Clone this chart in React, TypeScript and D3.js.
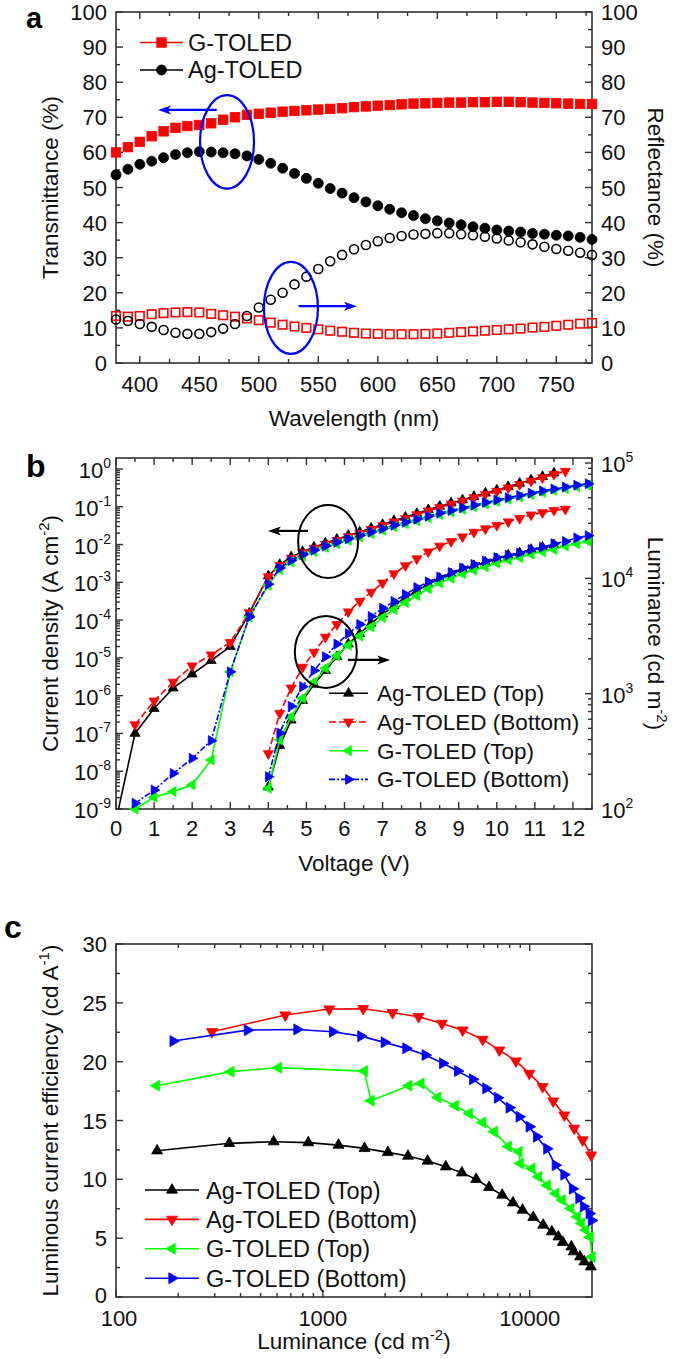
import React from "react";
import * as d3 from "d3";

const FONT = "'Liberation Sans', Arial, Helvetica, sans-serif";
const AXIS = "#303030";
const RED = "#ff0000";
const GREEN = "#00ff00";
const BLUE = "#0000ff";
const BLACK = "#000000";

// ---------------- Panel a: transmittance / reflectance ----------------
const wavelength = [380, 390, 400, 410, 420, 430, 440, 450, 460, 470, 480, 490, 500, 510, 520, 530, 540, 550, 560, 570, 580, 590, 600, 610, 620, 630, 640, 650, 660, 670, 680, 690, 700, 710, 720, 730, 740, 750, 760, 770, 780];
const gTransmittance = [60.0, 61.5, 63.0, 64.6, 66.0, 67.0, 67.5, 67.8, 68.3, 69.3, 70.0, 70.7, 71.0, 71.3, 71.6, 71.8, 72.0, 72.2, 72.4, 72.6, 72.9, 73.1, 73.3, 73.5, 73.7, 73.9, 74.0, 74.1, 74.2, 74.2, 74.3, 74.3, 74.4, 74.4, 74.3, 74.2, 74.1, 74.0, 73.9, 73.8, 73.8];
const agTransmittance = [53.6, 55.2, 56.6, 57.5, 58.5, 59.4, 59.9, 60.2, 60.1, 59.9, 59.6, 59.0, 58.0, 56.9, 55.5, 54.0, 52.6, 51.2, 49.7, 48.4, 47.1, 45.9, 44.8, 43.8, 42.8, 42.0, 41.1, 40.5, 39.9, 39.4, 38.8, 38.4, 37.9, 37.6, 37.3, 36.9, 36.7, 36.4, 36.2, 35.8, 35.2];
const agReflectance = [12.4, 12.0, 11.1, 10.3, 9.4, 8.6, 8.3, 8.3, 8.8, 9.8, 11.1, 13.4, 15.8, 18.0, 20.0, 22.4, 24.6, 26.8, 29.0, 30.8, 32.4, 33.6, 34.7, 35.6, 36.2, 36.6, 36.8, 37.0, 37.0, 36.7, 36.4, 36.0, 35.5, 34.9, 34.4, 33.8, 33.1, 32.5, 32.0, 31.4, 30.8];
const gReflectance = [13.4, 13.2, 13.4, 13.9, 14.2, 14.4, 14.5, 14.4, 14.0, 13.6, 13.2, 12.7, 12.2, 11.5, 10.9, 10.4, 10.0, 9.6, 9.2, 8.9, 8.6, 8.4, 8.3, 8.2, 8.2, 8.2, 8.3, 8.4, 8.6, 8.8, 9.0, 9.2, 9.4, 9.6, 9.8, 10.1, 10.3, 10.6, 10.9, 11.2, 11.4];
const aXTicks = [400, 450, 500, 550, 600, 650, 700, 750];
const aXMinor = [425, 475, 525, 575, 625, 675, 725, 775];
const aYTicks = [0, 10, 20, 30, 40, 50, 60, 70, 80, 90, 100];

// ---------------- Panel b: J-V-L ----------------
const voltage = [0, 0.5, 1.0, 1.5, 2.0, 2.5, 3.0, 3.5, 4.0, 4.3, 4.6, 4.9, 5.2, 5.5, 5.8, 6.1, 6.4, 6.7, 7.0, 7.3, 7.6, 7.9, 8.2, 8.5, 8.8, 9.1, 9.4, 9.7, 10.0, 10.3, 10.6, 10.9, 11.2, 11.5, 11.8, 12.1, 12.4];
// log10 of current density (A cm^-2); null = no point
const agTopLogJ = [-9.3, -7.0, -6.34, -5.80, -5.43, -5.07, -4.70, -3.82, -2.83, -2.53, -2.33, -2.19, -2.07, -1.96, -1.86, -1.76, -1.67, -1.57, -1.47, -1.37, -1.28, -1.18, -1.08, -0.99, -0.90, -0.82, -0.73, -0.64, -0.56, -0.47, -0.38, -0.29, -0.20, -0.11, null, null, null];
const agBotLogJ = [null, -6.77, -6.14, -5.64, -5.21, -4.92, -4.59, -3.80, -2.85, -2.55, -2.36, -2.22, -2.10, -1.99, -1.89, -1.79, -1.70, -1.60, -1.50, -1.40, -1.31, -1.21, -1.11, -1.02, -0.93, -0.85, -0.76, -0.67, -0.59, -0.50, -0.41, -0.32, -0.23, -0.14, -0.06, null, null];
const gTopLogJ = [null, -9.0, -8.69, -8.54, -8.36, -7.70, -5.37, -3.92, -3.08, -2.66, -2.46, -2.31, -2.19, -2.08, -1.98, -1.89, -1.80, -1.71, -1.62, -1.53, -1.45, -1.37, -1.29, -1.21, -1.14, -1.07, -1.00, -0.93, -0.86, -0.80, -0.74, -0.68, -0.62, -0.57, -0.52, -0.47, -0.43];
const gBotLogJ = [null, -8.85, -8.50, -8.06, -7.66, -7.19, -5.37, -3.92, -3.05, -2.62, -2.42, -2.27, -2.15, -2.04, -1.94, -1.85, -1.76, -1.67, -1.58, -1.49, -1.41, -1.33, -1.25, -1.17, -1.10, -1.03, -0.96, -0.89, -0.82, -0.76, -0.70, -0.64, -0.58, -0.53, -0.48, -0.43, -0.39];
// log10 of luminance (cd m^-2)
const agTopLogL = [null, null, null, null, null, null, null, null, 2.19, 2.55, 2.77, 2.94, 3.08, 3.20, 3.32, 3.43, 3.52, 3.61, 3.69, 3.76, 3.83, 3.89, 3.95, 4.00, 4.04, 4.08, 4.11, 4.14, 4.17, 4.20, 4.22, 4.25, 4.27, 4.29, null, null, null];
const agBotLogL = [null, null, null, null, null, null, null, null, 2.48, 2.83, 3.05, 3.23, 3.36, 3.49, 3.60, 3.71, 3.80, 3.88, 3.96, 4.04, 4.11, 4.17, 4.23, 4.28, 4.32, 4.36, 4.40, 4.43, 4.46, 4.49, 4.52, 4.55, 4.57, 4.59, 4.60, null, null];
const gTopLogL = [null, null, null, null, null, null, null, null, 2.18, 2.60, 2.80, 2.96, 3.10, 3.22, 3.33, 3.42, 3.50, 3.58, 3.66, 3.73, 3.79, 3.85, 3.91, 3.96, 4.00, 4.04, 4.07, 4.10, 4.13, 4.16, 4.18, 4.21, 4.23, 4.25, 4.28, 4.30, 4.32];
const gBotLogL = [null, null, null, null, null, null, null, null, 2.28, 2.66, 2.89, 3.06, 3.20, 3.32, 3.43, 3.52, 3.60, 3.67, 3.74, 3.80, 3.86, 3.92, 3.97, 4.01, 4.05, 4.09, 4.12, 4.15, 4.18, 4.20, 4.22, 4.25, 4.27, 4.30, 4.32, 4.35, 4.37];
const bXTicks = [0, 1, 2, 3, 4, 5, 6, 7, 8, 9, 10, 11, 12];
const bJExps = [-9, -8, -7, -6, -5, -4, -3, -2, -1, 0];
const bLExps = [2, 3, 4, 5];

// ---------------- Panel c: efficiency vs luminance ----------------
const agTopLum = [158, 353, 578, 850, 1190, 1590, 2060, 2580, 3210, 3930, 4700, 5510, 6360, 7360, 8300, 9230, 10400, 11620, 12790, 13750, 14450, 15900, 16300, 17500, 18360, 19740];
const agTopEff = [12.43, 13.06, 13.2, 13.12, 12.91, 12.63, 12.29, 11.98, 11.56, 11.07, 10.56, 10.0, 9.32, 8.67, 8.01, 7.39, 6.77, 6.12, 5.55, 5.12, 4.65, 4.27, 3.85, 3.42, 3.0, 2.57];
const agBotLum = [291, 658, 1074, 1567, 2173, 2900, 3763, 4740, 5920, 7130, 8580, 9950, 11540, 12990, 14690, 16410, 18030, 19800];
const agBotEff = [22.54, 23.96, 24.47, 24.5, 24.16, 23.82, 23.25, 22.68, 21.89, 20.98, 20.05, 19.0, 17.87, 16.65, 15.46, 14.33, 13.34, 12.06];
const gTopLum = [157, 359, 610, 1585, 1708, 2600, 2980, 3590, 4365, 5100, 5920, 6730, 7870, 8870, 8990, 10240, 11010, 12130, 13360, 14350, 15790, 16970, 17790, 18660, 19580, 20000];
const gTopEff = [17.96, 19.15, 19.49, 19.2, 16.68, 17.96, 18.15, 16.96, 16.26, 15.6, 14.84, 14.05, 12.8, 12.35, 11.36, 10.93, 10.22, 9.5, 8.8, 8.24, 7.53, 6.82, 6.26, 5.7, 5.1, 3.4];
const gBotLum = [189, 432, 750, 1115, 1527, 1983, 2522, 3128, 3795, 4483, 5300, 6140, 6990, 7960, 8900, 9950, 10800, 12100, 13300, 14650, 16100, 17300, 18200, 19400, 19900];
const gBotEff = [21.75, 22.68, 22.74, 22.54, 22.17, 21.64, 21.13, 20.56, 19.86, 19.2, 18.5, 17.73, 16.94, 16.09, 15.32, 14.47, 13.62, 12.6, 11.2, 10.4, 9.2, 8.4, 7.7, 7.1, 6.5];
const cXTicks = [100, 1000, 10000];
const cYTicks = [0, 5, 10, 15, 20, 25, 30];

const deviceNames = ["Ag-TOLED (Top)", "Ag-TOLED (Bottom)", "G-TOLED (Top)", "G-TOLED (Bottom)"];

// ---------------- Layout ----------------
const PL = 116;
const PR = 592;
const A = { top: 12, bottom: 363 };
const B = { top: 458, bottom: 809 };
const C = { top: 944, bottom: 1297 };

const xA = d3.scaleLinear().domain([380, 780]).range([PL, PR]);
const yA = d3.scaleLinear().domain([0, 100]).range([A.bottom, A.top]);
const xB = d3.scaleLinear().domain([0, 12.5]).range([PL, PR]);
const yBJ = d3.scaleLog().domain([1e-9, 1.95]).range([B.bottom, B.top]);
const yBL = d3.scaleLog().domain([100, 1.105e5]).range([B.bottom, B.top]);
const xC = d3.scaleLog().domain([100, 20000]).range([PL, PR]);
const yC = d3.scaleLinear().domain([0, 30]).range([C.bottom, C.top]);

type Shape = "square" | "circle" | "up" | "down" | "left" | "right";

function triPts(shape: Shape, x: number, y: number, s: number) {
  const h = s * 0.866;
  const a = (2 * h) / 3;
  const b = h / 3;
  const w = s / 2;
  let p: number[][] = [];
  if (shape === "up") p = [[x, y - a], [x - w, y + b], [x + w, y + b]];
  if (shape === "down") p = [[x, y + a], [x - w, y - b], [x + w, y - b]];
  if (shape === "left") p = [[x - a, y], [x + b, y - w], [x + b, y + w]];
  if (shape === "right") p = [[x + a, y], [x - b, y - w], [x - b, y + w]];
  return p.map((q) => q.join(",")).join(" ");
}

function Marker(props: { shape: Shape; x: number; y: number; s: number; color: string; open?: boolean }) {
  const { shape, x, y, s, color, open } = props;
  const fill = open ? "none" : color;
  const sw = open ? 1.6 : 0.8;
  if (shape === "square") return <rect x={x - s / 2} y={y - s / 2} width={s} height={s} fill={fill} stroke={color} strokeWidth={sw} />;
  if (shape === "circle") return <circle cx={x} cy={y} r={s / 2} fill={fill} stroke={color} strokeWidth={sw} />;
  return <polygon points={triPts(shape, x, y, s)} fill={fill} stroke={color} strokeWidth={sw} strokeLinejoin="miter" />;
}

function Arrow(props: { x1: number; x2: number; y: number; color: string }) {
  const { x1, x2, y, color } = props;
  const dir = x2 > x1 ? 1 : -1;
  const head = 13;
  const hw = 4.5;
  return (
    <g>
      <line x1={x1} y1={y} x2={x2 - dir * head * 0.7} y2={y} stroke={color} strokeWidth={2.2} />
      <polygon points={`${x2},${y} ${x2 - dir * head},${y - hw} ${x2 - dir * head * 0.75},${y} ${x2 - dir * head},${y + hw}`} fill={color} />
    </g>
  );
}

function Frame(props: { top: number; bottom: number }) {
  return <rect x={PL} y={props.top} width={PR - PL} height={props.bottom - props.top} fill="none" stroke={AXIS} strokeWidth={1.6} />;
}

function XTickMarks(props: { pos: number[]; top: number; bottom: number; len: number }) {
  return (
    <g stroke={AXIS} strokeWidth={1.4}>
      {props.pos.map((x, i) => (
        <g key={i}>
          <line x1={x} x2={x} y1={props.bottom} y2={props.bottom - props.len} />
          <line x1={x} x2={x} y1={props.top} y2={props.top + props.len} />
        </g>
      ))}
    </g>
  );
}
function YTickMarks(props: { pos: number[]; left?: boolean; right?: boolean; len: number }) {
  return (
    <g stroke={AXIS} strokeWidth={1.4}>
      {props.pos.map((y, i) => (
        <g key={i}>
          {props.left !== false && <line x1={PL} x2={PL + props.len} y1={y} y2={y} />}
          {props.right !== false && <line x1={PR} x2={PR - props.len} y1={y} y2={y} />}
        </g>
      ))}
    </g>
  );
}

const TICK_FS = 22;
const TITLE_FS = 22.5;

function linePath(pts: [number, number][], xs: (v: number) => number, ys: (v: number) => number) {
  return (
    d3
      .line<[number, number]>()
      .x((d) => xs(d[0]))
      .y((d) => ys(d[1]))(pts) || ""
  );
}

function seriesPts(xv: number[], logv: (number | null)[]): [number, number][] {
  const out: [number, number][] = [];
  xv.forEach((v, i) => {
    const l = logv[i];
    if (l !== null && l !== undefined) out.push([v, Math.pow(10, l)]);
  });
  return out;
}

function zipPts(xv: number[], yv: number[]): [number, number][] {
  return xv.map((v, i) => [v, yv[i]] as [number, number]);
}

export default function App() {
  const aMinorY: number[] = [];
  for (let v = 5; v < 100; v += 10) aMinorY.push(v);

  const bMinorX: number[] = [];
  for (let v = 0.5; v <= 12.5; v += 1) bMinorX.push(v);
  const bJMinor: number[] = [];
  for (let e = -9; e <= 0; e++) for (let k = 2; k <= 9; k++) if (k * Math.pow(10, e) < 1.95) bJMinor.push(k * Math.pow(10, e));
  const bLMinor: number[] = [];
  for (let e = 2; e <= 5; e++) for (let k = 2; k <= 9; k++) if (k * Math.pow(10, e) < 1.105e5) bLMinor.push(k * Math.pow(10, e));

  const cMinorX: number[] = [];
  for (let e = 2; e <= 4; e++) for (let k = 2; k <= 9; k++) if (k * Math.pow(10, e) < 20000) cMinorX.push(k * Math.pow(10, e));
  const cMinorY: number[] = [];
  for (let v = 2.5; v < 30; v += 5) cMinorY.push(v);

  const bSeries = [
    { name: deviceNames[0], color: BLACK, shape: "up" as Shape, dash: undefined as string | undefined, J: agTopLogJ, L: agTopLogL },
    { name: deviceNames[1], color: RED, shape: "down" as Shape, dash: "7,3", J: agBotLogJ, L: agBotLogL },
    { name: deviceNames[2], color: GREEN, shape: "left" as Shape, dash: undefined, J: gTopLogJ, L: gTopLogL },
    { name: deviceNames[3], color: BLUE, shape: "right" as Shape, dash: "6,2,2,2", J: gBotLogJ, L: gBotLogL },
  ];
  const cSeries = [
    { name: deviceNames[0], color: BLACK, shape: "up" as Shape, pts: zipPts(agTopLum, agTopEff) },
    { name: deviceNames[1], color: RED, shape: "down" as Shape, pts: zipPts(agBotLum, agBotEff) },
    { name: deviceNames[2], color: GREEN, shape: "left" as Shape, pts: zipPts(gTopLum, gTopEff) },
    { name: deviceNames[3], color: BLUE, shape: "right" as Shape, pts: zipPts(gBotLum, gBotEff) },
  ];

  const inJ = (v: number) => v >= 1e-9 * 0.999 && v <= 1.95;
  const inL = (v: number) => v >= 100 * 0.999 && v <= 1.105e5;

  const sup = (base: string, exp: string) => (
    <>
      {base}
      <tspan dy={-10} fontSize={14}>{exp}</tspan>
    </>
  );

  return (
    <svg width={675} height={1359} viewBox="0 0 675 1359" style={{ position: "absolute", left: 0, top: 0, background: "#fff" }} fontFamily={FONT}>
      <rect x={0} y={0} width={675} height={1359} fill="#fff" />
      <defs>
        <clipPath id="clipA"><rect x={PL} y={A.top} width={PR - PL} height={A.bottom - A.top} /></clipPath>
        <clipPath id="clipB"><rect x={PL} y={B.top} width={PR - PL} height={B.bottom - B.top} /></clipPath>
        <clipPath id="clipC"><rect x={PL} y={C.top} width={PR - PL} height={C.bottom - C.top} /></clipPath>
      </defs>

      {/* ================= PANEL A ================= */}
      <text x={26} y={28} fontSize={29} fontWeight="bold">a</text>
      <Frame top={A.top} bottom={A.bottom} />
      <XTickMarks pos={aXTicks.map((v) => xA(v))} top={A.top} bottom={A.bottom} len={7} />
      <XTickMarks pos={aXMinor.map((v) => xA(v))} top={A.top} bottom={A.bottom} len={4} />
      <YTickMarks pos={aYTicks.map((v) => yA(v))} len={7} />
      <YTickMarks pos={aMinorY.map((v) => yA(v))} len={4} />
      <g fontSize={TICK_FS} fill="#111">
        {aYTicks.map((v) => (
          <text key={"al" + v} x={107} y={yA(v) + 8} textAnchor="end">{v}</text>
        ))}
        {aYTicks.map((v) => (
          <text key={"ar" + v} x={601} y={yA(v) + 8} textAnchor="start">{v}</text>
        ))}
        {aXTicks.map((v) => (
          <text key={"ax" + v} x={xA(v)} y={A.bottom + 29} textAnchor="middle">{v}</text>
        ))}
      </g>
      <text x={354} y={426} fontSize={TITLE_FS} textAnchor="middle" fill="#111">Wavelength (nm)</text>
      <text transform={`translate(58,${(A.top + A.bottom) / 2}) rotate(-90)`} fontSize={TITLE_FS} textAnchor="middle" fill="#111">Transmittance (%)</text>
      <text transform={`translate(648,${(A.top + A.bottom) / 2}) rotate(90)`} fontSize={TITLE_FS} textAnchor="middle" fill="#111">Reflectance (%)</text>

      <g>
        {wavelength.map((w, i) => (
          <Marker key={"gr" + i} shape="square" x={xA(w)} y={yA(gReflectance[i])} s={8.5} color={RED} open />
        ))}
        {wavelength.map((w, i) => (
          <Marker key={"ar" + i} shape="circle" x={xA(w)} y={yA(agReflectance[i])} s={9} color={BLACK} open />
        ))}
        {wavelength.map((w, i) => (
          <Marker key={"gt" + i} shape="square" x={xA(w)} y={yA(gTransmittance[i])} s={9.5} color={RED} />
        ))}
        {wavelength.map((w, i) => (
          <Marker key={"at" + i} shape="circle" x={xA(w)} y={yA(agTransmittance[i])} s={10} color={BLACK} />
        ))}
      </g>
      <ellipse cx={xA(473.3)} cy={yA(63)} rx={27} ry={46.7} fill="none" stroke={BLUE} strokeWidth={2.2} />
      <Arrow x1={xA(464.6)} x2={xA(415.3)} y={yA(72.1)} color={BLUE} />
      <ellipse cx={xA(527)} cy={yA(15.7)} rx={27} ry={46} fill="none" stroke={BLUE} strokeWidth={2.2} />
      <Arrow x1={xA(533.5)} x2={xA(582.5)} y={yA(16.2)} color={BLUE} />
      <g>
        <line x1={140} x2={183} y1={42.5} y2={42.5} stroke={RED} strokeWidth={1.6} />
        <Marker shape="square" x={161.5} y={42.5} s={9.5} color={RED} />
        <text x={188} y={50.5} fontSize={23.5} fill="#111">G-TOLED</text>
        <line x1={140} x2={183} y1={70} y2={70} stroke={BLACK} strokeWidth={1.6} />
        <Marker shape="circle" x={161.5} y={70} s={10} color={BLACK} />
        <text x={188} y={78} fontSize={23.5} fill="#111">Ag-TOLED</text>
      </g>

      {/* ================= PANEL B ================= */}
      <text x={26} y={477} fontSize={32} fontWeight="bold">b</text>
      <Frame top={B.top} bottom={B.bottom} />
      <XTickMarks pos={bXTicks.map((v) => xB(v))} top={B.top} bottom={B.bottom} len={7} />
      <XTickMarks pos={bMinorX.map((v) => xB(v))} top={B.top} bottom={B.bottom} len={4} />
      <YTickMarks pos={bJExps.map((e) => yBJ(Math.pow(10, e)))} right={false} len={7} />
      <YTickMarks pos={bJMinor.map((v) => yBJ(v))} right={false} len={4} />
      <YTickMarks pos={bLExps.map((e) => yBL(Math.pow(10, e)))} left={false} len={7} />
      <YTickMarks pos={bLMinor.map((v) => yBL(v))} left={false} len={4} />
      <g fontSize={TICK_FS} fill="#111">
        {bJExps.map((e) => (
          <text key={"bj" + e} x={111} y={yBJ(Math.pow(10, e)) + 9} textAnchor="end">{sup("10", String(e))}</text>
        ))}
        {bLExps.map((e) => (
          <text key={"bl" + e} x={601} y={yBL(Math.pow(10, e)) + 9} textAnchor="start">{sup("10", String(e))}</text>
        ))}
        {bXTicks.map((v) => (
          <text key={"bx" + v} x={xB(v)} y={B.bottom + 27} textAnchor="middle">{v}</text>
        ))}
      </g>
      <text x={354} y={871} fontSize={TITLE_FS} textAnchor="middle" fill="#111">Voltage (V)</text>
      <text transform={`translate(58,${(B.top + B.bottom) / 2}) rotate(-90)`} fontSize={TITLE_FS} textAnchor="middle" fill="#111">
        Current density (A cm<tspan dy={-9} fontSize={15}>-2</tspan><tspan dy={9}>)</tspan>
      </text>
      <text transform={`translate(648,${(B.top + B.bottom) / 2}) rotate(90)`} fontSize={TITLE_FS} textAnchor="middle" fill="#111">
        Luminance  (cd m<tspan dy={-9} fontSize={15}>-2</tspan><tspan dy={9}>)</tspan>
      </text>

      {bSeries.map((s) => {
        const pts = seriesPts(voltage, s.J);
        return (
          <g key={"J" + s.name}>
            <path d={linePath(pts, xB, yBJ)} fill="none" stroke={s.color} strokeWidth={1.6} strokeDasharray={s.dash} clipPath="url(#clipB)" />
            {pts.filter((p) => inJ(p[1])).map((p, i) => (
              <Marker key={i} shape={s.shape} x={xB(p[0])} y={yBJ(p[1])} s={10} color={s.color} />
            ))}
          </g>
        );
      })}
      {bSeries.map((s) => {
        const pts = seriesPts(voltage, s.L);
        return (
          <g key={"L" + s.name}>
            <path d={linePath(pts, xB, yBL)} fill="none" stroke={s.color} strokeWidth={1.6} strokeDasharray={s.dash} clipPath="url(#clipB)" />
            {pts.filter((p) => inL(p[1])).map((p, i) => (
              <Marker key={i} shape={s.shape} x={xB(p[0])} y={yBL(p[1])} s={10} color={s.color} />
            ))}
          </g>
        );
      })}
      <ellipse cx={xB(5.57)} cy={yBJ(0.012)} rx={30} ry={36.5} fill="none" stroke={BLACK} strokeWidth={2} />
      <Arrow x1={xB(5.04)} x2={xB(3.99)} y={yBJ(0.0229)} color={BLACK} />
      <ellipse cx={xB(5.51)} cy={yBL(2300)} rx={31} ry={36} fill="none" stroke={BLACK} strokeWidth={2} />
      <Arrow x1={xB(6.09)} x2={xB(7.2)} y={yBL(1960)} color={BLACK} />
      {bSeries.map((s, i) => {
        const y = 693.3 + i * 28.7;
        return (
          <g key={"lb" + i}>
            <line x1={329} x2={368} y1={y} y2={y} stroke={s.color} strokeWidth={1.6} strokeDasharray={s.dash} />
            <Marker shape={s.shape} x={348.5} y={y} s={10} color={s.color} />
            <text x={377} y={y + 8} fontSize={22.5} fill="#111">{s.name}</text>
          </g>
        );
      })}

      {/* ================= PANEL C ================= */}
      <text x={4} y={938} fontSize={32} fontWeight="bold">c</text>
      <Frame top={C.top} bottom={C.bottom} />
      <XTickMarks pos={cXTicks.map((v) => xC(v))} top={C.top} bottom={C.bottom} len={7} />
      <XTickMarks pos={cMinorX.map((v) => xC(v))} top={C.top} bottom={C.bottom} len={4} />
      <YTickMarks pos={cYTicks.map((v) => yC(v))} len={7} />
      <YTickMarks pos={cMinorY.map((v) => yC(v))} len={4} />
      <g fontSize={TICK_FS} fill="#111">
        {cYTicks.map((v) => (
          <text key={"cy" + v} x={107} y={yC(v) + (v === 0 ? 6 : 8)} textAnchor="end">{v}</text>
        ))}
        {cXTicks.map((v) => (
          <text key={"cx" + v} x={xC(v) + (v === 100 ? 3 : 0)} y={C.bottom + 29} textAnchor="middle">{v}</text>
        ))}
      </g>
      <text x={354} y={1349} fontSize={TITLE_FS} textAnchor="middle" fill="#111">
        Luminance (cd m<tspan dy={-9} fontSize={15}>-2</tspan><tspan dy={9}>)</tspan>
      </text>
      <text transform={`translate(58,${(C.top + C.bottom) / 2}) rotate(-90)`} fontSize={TITLE_FS} textAnchor="middle" fill="#111">
        Luminous current efficiency (cd A<tspan dy={-9} fontSize={15}>-1</tspan><tspan dy={9}>)</tspan>
      </text>
      {cSeries.map((s) => (
        <g key={"c" + s.name}>
          <path d={linePath(s.pts, xC, yC)} fill="none" stroke={s.color} strokeWidth={1.6} clipPath="url(#clipC)" />
          {s.pts.map((p, i) => (
            <Marker key={i} shape={s.shape} x={xC(p[0])} y={yC(p[1])} s={11} color={s.color} />
          ))}
        </g>
      ))}
      {cSeries.map((s, i) => {
        const y = 1190 + i * 29.4;
        return (
          <g key={"lc" + i}>
            <line x1={145} x2={199} y1={y} y2={y} stroke={s.color} strokeWidth={1.6} />
            <Marker shape={s.shape} x={172} y={y} s={11} color={s.color} />
            <text x={206} y={y + 8.5} fontSize={23.5} fill="#111">{s.name}</text>
          </g>
        );
      })}
    </svg>
  );
}
